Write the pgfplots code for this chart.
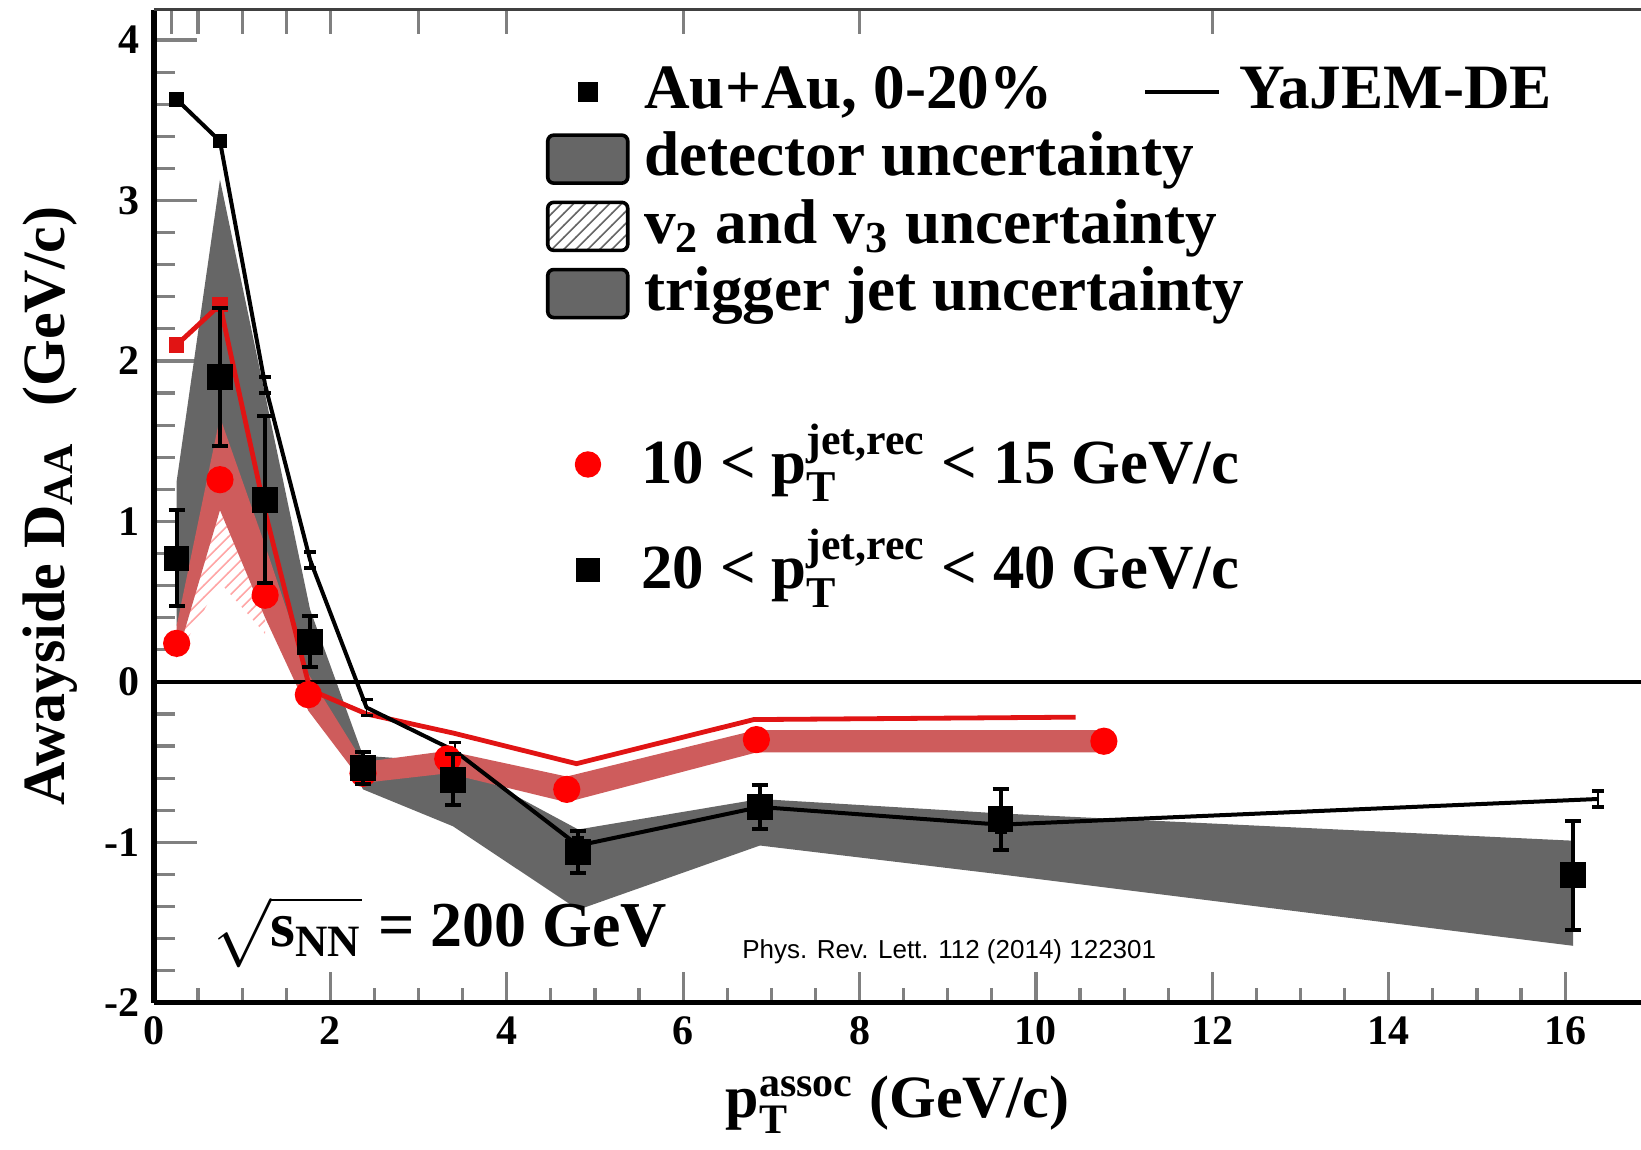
\documentclass[border=0pt]{standalone}
\usepackage{pgfplots}
\pgfplotsset{compat=1.18}
\usepackage{amsmath}
\usepackage{fontspec}
\setmainfont{Liberation Serif}
\newfontfamily\prlfont{Liberation Sans}
\usetikzlibrary{patterns}

\definecolor{bandgray}{RGB}{102,102,102}
\definecolor{bandred}{RGB}{206,92,92}
\definecolor{datared}{RGB}{255,0,0}
\definecolor{linered}{RGB}{225,20,20}

\pgfplotsset{
  base/.style={width=371.75pt, height=248.3pt, scale only axis,
    xmin=0, xmax=16.86, ymin=-2, ymax=4.19},
  boxleg/.style={legend image code/.code={\draw[##1, line width=0.9pt, rounded corners=1.5pt] (0pt,-6pt) rectangle (20pt,6pt);}},
  markleg/.style={legend image code/.code={\draw[##1] plot coordinates {(#1,0pt)};}},
  lineleg/.style={legend image code/.code={\draw[##1] (0pt,0pt) -- (18.5pt,0pt);}},
}

\begin{document}
\begin{tikzpicture}
\begin{axis}[base, name=ax, clip mode=individual,
  axis x line*=bottom, axis y line*=left,
  x axis line style={-, line width=1.3pt}, y axis line style={-, line width=1.3pt},
  tick align=inside,
  xtick={0,2,4,6,8,10,12,14,16}, xticklabels={0,2,4,6,8,10,12,14,16},
  minor x tick num=3,
  ytick={-2,-1,0,1,2,3,4}, yticklabels={-2,-1,0,1,2,3,4},
  minor y tick num=4,
  xtick style={line width=0.8pt, /pgfplots/major tick length=7.75pt, /pgfplots/minor tick length=3.75pt},
  ytick style={line width=0.8pt, /pgfplots/major tick length=10.8pt, /pgfplots/minor tick length=5.2pt},
  ticklabel style={font=\bfseries\fontsize{10.5}{10.5}\selectfont},
  xlabel={p$^{\text{assoc}}_{\text{T}}$ (GeV/c)},
  ylabel={Awayside D$_{\text{AA}}$\hspace{0.6em}(GeV/c)},
  label style={font=\bfseries\fontsize{15}{15}\selectfont},
  xlabel style={at={(axis description cs:0.5,-0.1023)}, anchor=center},
  ylabel style={at={(axis description cs:-0.070,0.5)}, anchor=center},
]
% detector / trigger jet uncertainty band, 20-40 GeV/c
\addplot[fill=bandgray, draw=none] coordinates {
  (0.257,0.35) (0.748,1.10) (1.26,0.75) (1.77,0.00) (2.37,-0.67) (3.39,-0.90)
  (4.81,-1.42) (6.87,-1.02) (9.60,-1.20) (16.09,-1.645)
  (16.09,-0.99) (9.60,-0.82) (6.87,-0.73) (4.81,-0.92) (3.39,-0.50) (2.37,-0.46)
  (1.77,0.45) (1.26,1.79) (0.748,3.13) (0.257,1.25)} -- cycle;
% v2/v3 hatch below the red band
\addplot[pattern=north east lines, pattern color=red!35, draw=none] coordinates {
  (0.257,0.15) (0.748,0.62) (1.26,0.30) (1.26,0.40) (0.748,1.07) (0.257,0.35)} -- cycle;
% uncertainty band, 10-15 GeV/c
\addplot[fill=bandred, draw=none] coordinates {
  (0.257,0.15) (0.748,1.07) (1.26,0.40) (1.75,-0.18) (2.37,-0.63) (3.33,-0.57)
  (4.68,-0.75) (6.83,-0.44) (10.77,-0.44)
  (10.77,-0.30) (6.83,-0.30) (4.68,-0.59) (3.33,-0.43) (2.37,-0.50) (1.75,0.05)
  (1.26,0.85) (0.748,1.65) (0.257,0.35)} -- cycle;
% zero line
\addplot[black, line width=1pt] coordinates {(0,0) (16.86,0)};
% YaJEM-DE, 10-15
\addplot[linered, line width=1.2pt, mark=square*, mark size=1.3pt, mark indices={1,2}] coordinates {
  (0.257,2.10) (0.748,2.35) (1.26,1.06) (1.77,-0.05) (2.41,-0.20) (3.40,-0.32)
  (4.79,-0.51) (6.80,-0.235) (10.45,-0.22)};
% YaJEM-DE, 20-40
\addplot[black, line width=1pt, mark=square*, mark size=1.3pt, mark indices={1,2},
  error bars/.cd, y dir=both, y explicit,
  error mark options={rotate=90, mark size=1.5pt, line width=0.8pt}] coordinates {
  (0.257,3.63) +- (0,0.03) (0.748,3.37) +- (0,0.03) (1.26,1.85) +- (0,0.05)
  (1.77,0.76) +- (0,0.05) (2.41,-0.16) +- (0,0.05) (3.41,-0.43) +- (0,0.05)
  (4.81,-1.02) +- (0,0.05) (6.87,-0.78) +- (0,0.05) (9.60,-0.89) +- (0,0.05)
  (16.37,-0.73) +- (0,0.05)};
% data 10-15
\addplot[only marks, mark=*, mark size=3.2pt, datared] coordinates {
  (0.257,0.24) (0.748,1.26) (1.26,0.54) (1.75,-0.08) (2.37,-0.57) (3.33,-0.48)
  (4.68,-0.67) (6.83,-0.36) (10.77,-0.37)};
% data 20-40
\addplot[only marks, mark=square*, mark size=3pt, black,
  error bars/.cd, y dir=both, y explicit,
  error bar style={line width=1pt},
  error mark options={rotate=90, mark size=2pt, line width=1pt}] coordinates {
  (0.257,0.77) +- (0,0.30) (0.748,1.90) +- (0,0.43) (1.26,1.135) +- (0,0.52)
  (1.77,0.25) +- (0,0.16) (2.37,-0.535) +- (0,0.10) (3.39,-0.61) +- (0,0.16)
  (4.81,-1.06) +- (0,0.13) (6.87,-0.78) +- (0,0.14) (9.60,-0.855) +- (0,0.19)
  (16.09,-1.205) +- (0,0.34)};
\node[anchor=base west, font=\bfseries\fontsize{16}{16}\selectfont] at (axis cs:0.51,-1.647)
  {$\sqrt{\text{s}_{\text{NN}}}$ = 200 GeV};
\node[anchor=west, font=\prlfont\fontsize{6.5}{6.5}\selectfont] at (axis cs:6.51,-1.68)
  {Phys. Rev. Lett. 112 (2014) 122301};
\end{axis}

% top axis with its own ticks
\begin{axis}[base, axis x line*=top, axis y line=none,
  x axis line style={-, line width=0.8pt, black!75},
  tick align=inside, xtick={0.2,0.5,1,1.5,2,3,4,6,8,12}, xticklabels={},
  ytick=\empty, xtick style={line width=0.8pt, /pgfplots/major tick length=6pt}]
\end{axis}

% legend: data and uncertainties
\begin{axis}[base, hide axis,
  legend cell align=left,
  legend style={draw=none, fill=none, at={(axis cs:4.444,3.886)}, anchor=north west,
    inner sep=0pt, outer sep=0pt, row sep=0pt, column sep=3.7pt,
    font=\bfseries\fontsize{15.8}{15.8}\selectfont,
    nodes={inner sep=0pt, text height=12.6pt, text depth=4.2pt}}]
\addlegendimage{only marks, mark=square*, mark size=2.3pt, black, markleg=10pt}
\addlegendentry{Au+Au, 0-20\%}
\addlegendimage{fill=bandgray, draw=black, boxleg}
\addlegendentry{detector uncertainty}
\addlegendimage{pattern=north east lines, pattern color=black!60, draw=black, boxleg}
\addlegendentry{v$_{\text{2}}$ and v$_{\text{3}}$ uncertainty}
\addlegendimage{fill=bandgray, draw=black, boxleg}
\addlegendentry{trigger jet uncertainty}
\end{axis}

% legend: model
\begin{axis}[base, hide axis,
  legend cell align=left,
  legend style={draw=none, fill=none, at={(axis cs:11.21,3.886)}, anchor=north west,
    inner sep=0pt, outer sep=0pt, row sep=0pt, column sep=4.5pt,
    font=\bfseries\fontsize{15.8}{15.8}\selectfont,
    nodes={inner sep=0pt, text height=12.6pt, text depth=4.2pt}}]
\addlegendimage{black, line width=1.2pt, lineleg}
\addlegendentry{YaJEM-DE}
\end{axis}

% legend: trigger jet ranges
\begin{axis}[base, hide axis,
  legend cell align=left,
  legend style={draw=none, fill=none, at={(axis cs:4.78,1.684)}, anchor=north west,
    inner sep=0pt, outer sep=0pt, row sep=0pt, column sep=10.3pt,
    font=\bfseries\fontsize{15.7}{15.7}\selectfont,
    nodes={inner sep=0pt, text height=17.9pt, text depth=8.5pt}}]
\addlegendimage{only marks, mark=*, mark size=3.1pt, datared, markleg=7pt}
\addlegendentry{10 < p$^{\text{jet,rec}}_{\text{T}}$ < 15 GeV/c}
\addlegendimage{only marks, mark=square*, mark size=2.9pt, black, markleg=7pt}
\addlegendentry{20 < p$^{\text{jet,rec}}_{\text{T}}$ < 40 GeV/c}
\end{axis}

\pgfresetboundingbox
\path ([xshift=-38.5pt,yshift=-36.6pt]ax.south west) rectangle ([yshift=2.4pt]ax.north east);
\end{tikzpicture}
\end{document}
